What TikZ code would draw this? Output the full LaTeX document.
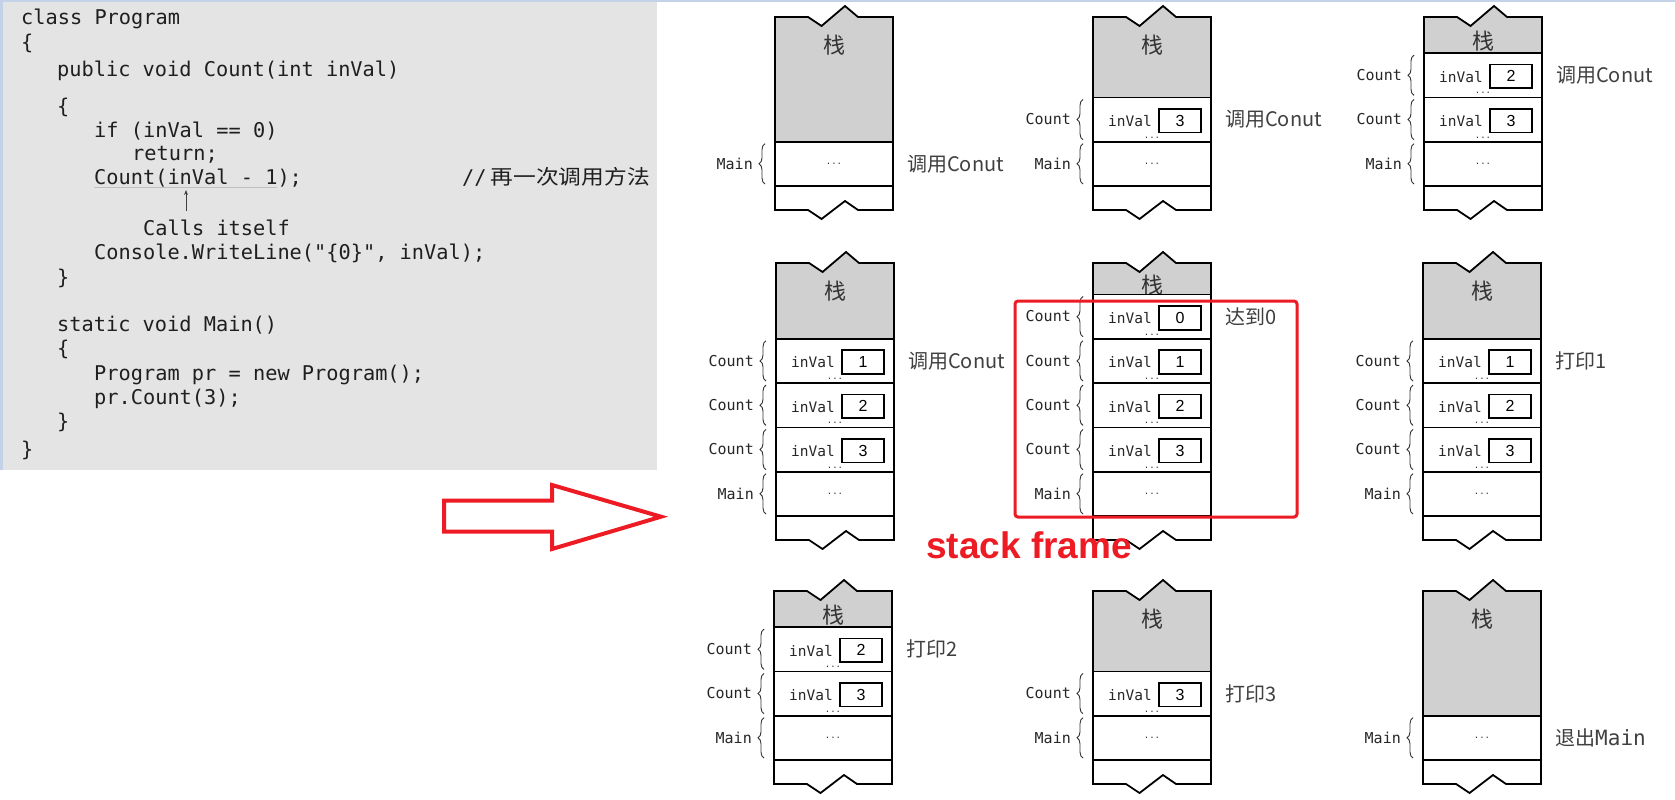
\documentclass[tikz,border=0pt]{standalone}
\usepackage{fontspec}
\newfontfamily\cjk{Noto Sans CJK SC}
\newfontfamily\codefont{DejaVu Sans Mono}
\newfontfamily\digitfont{Liberation Sans}
\newfontfamily\framefont{Liberation Sans}
\usetikzlibrary{arrows.meta,decorations.pathreplacing}
\definecolor{markred}{RGB}{237,28,36}
\definecolor{codebg}{RGB}{228,228,228}
\definecolor{stackgray}{RGB}{208,208,208}
\definecolor{edgeblue}{RGB}{196,210,232}

\begin{document}
\begin{tikzpicture}[x=1pt,y=-1pt,
	code/.style={anchor=base west,inner sep=0pt,text=black!88,font=\codefont\fontsize{20.3}{24}\selectfont},
	lbl/.style={anchor=east,inner sep=0pt,text=black!85,font=\codefont\fontsize{15}{18}\selectfont},
	field/.style={anchor=base west,inner sep=0pt,text=black!85,font=\codefont\fontsize{14.5}{18}\selectfont},
	note/.style={anchor=west,inner sep=0pt,text=black!75,font=\cjk\fontsize{20}{24}\selectfont},
	valbox/.style={draw,line width=1.8pt,minimum width=42pt,minimum height=23.7pt,inner sep=0pt,font=\digitfont\fontsize{16}{18}\selectfont},
	dots/.style={inner sep=0pt,text=black!80,font=\codefont\fontsize{9}{10}\selectfont},
	wall/.style={line width=1.8pt,line join=miter},
	brc/.style={decorate,decoration={brace,amplitude=6pt},line width=0.9pt,black!80}]
	\useasboundingbox (0,0) rectangle (1675,800);
	\fill[white] (0,0) rectangle (1675,800);
	\fill[edgeblue] (0,0) rectangle (1675,2.5);
	\fill[edgeblue] (0,0) rectangle (2.5,470);
	\fill[codebg] (2.5,2.5) rectangle (657,470);

	% the code
	\node[code] (cls) at (21,25) {class Program};
	\node[code] (clsopen) at (21,50) {\{};
	\node[code] (cnthead) at (57,76) {public void Count(int inVal)};
	\node[code] (cntopen) at (57,113) {\{};
	\node[code] (test) at (94,137) {if (inVal == 0)};
	\node[code] (ret) at (132,160) {return;};
	\node[code] (rec) at (94,184) {Count(inVal - 1);};
	\node[code] (cmt) at (462,184) {//\hspace{4pt}{\cjk\scalebox{1.12}[1]{再一次调用方法}}};
	\node[code] (calls) at (143,235) {Calls itself};
	\node[code] (print) at (94,259) {Console.WriteLine("\{0\}", inVal);};
	\node[code] (cntclose) at (57,284) {\}};
	\node[code] (mainhead) at (57,331) {static void Main()};
	\node[code] (mainopen) at (57,355) {\{};
	\node[code] (newpr) at (94,380) {Program pr = new Program();};
	\node[code] (call3) at (94,404) {pr.Count(3);};
	\node[code] (mainclose) at (57,428) {\}};
	\node[code] (clsclose) at (21,456) {\}};
	\coordinate (up) at (186,0);
	\draw[black!25,line width=0.6pt] (rec.south west) -- ++(183,0);
	\draw[-{Stealth[length=5pt,width=4pt]},line width=0.8pt,black!75,shorten <=8pt,shorten >=3pt] (calls.north -| up) -- (rec.south -| up);

	% the stacks
	\foreach \k/\L/\T/\B/\vz/\lab in {
		1/775/17/210/4/{调用Conut},
		2/1093/17/210/3/{调用Conut},
		3/1424/17/210/2/{调用Conut},
		4/776/263/540/1/{调用Conut},
		5/1093/263/540/0/{达到0},
		6/1423/263/540/1/{打印1},
		7/774/591/784/2/{打印2},
		8/1093/591/784/3/{打印3},
		9/1423/591/784/4/{退出{\codefont\fontsize{21}{24}\selectfont Main}}}
	{
		\pgfmathsetmacro\R{\L+118}
		\pgfmathsetmacro\Y{\B-24}
		\pgfmathsetmacro\G{\Y-44.3*(5-\vz)}
		\pgfmathsetmacro\zy{min(\T+28,(\T+\G)/2+6)}
		\fill[stackgray] (\L,\T) -- (\L+33,\T) -- (\L+46.5,\T+9) -- (\L+70,\T-11) -- (\L+83,\T) -- (\R,\T) -- (\R,\G) -- (\L,\G) -- cycle;
		\node[inner sep=0pt,text=black!80,font=\cjk\fontsize{22}{24}\selectfont] (s\k top) at (\L+59,\zy) {栈};
		\draw[wall] (\L,\T) -- (\L+33,\T) -- (\L+46.5,\T+9) -- (\L+70,\T-11) -- (\L+83,\T) -- (\R,\T)
			-- (\R,\B) -- (\L+83,\B) -- (\L+70,\B-9) -- (\L+46.5,\B+9) -- (\L+33,\B) -- (\L,\B) -- cycle;
		\draw[wall] (\L,\Y) -- (\R,\Y);
		\draw[wall] (\L,\Y-44.3) -- (\R,\Y-44.3);
		\node[lbl] (s\k main) at (\L-22,\Y-22) {Main};
		\draw[brc] (\L-10,\Y-2) -- (\L-10,\Y-42.3);
		\node[dots] (s\k mdots) at (\L+59,\Y-22) {...};
		\foreach \v in {0,...,3} {
			\ifnum\v<\vz\relax\else
				\pgfmathsetmacro\rt{\Y-44.3*(5-\v)}
				\draw[wall] (\L,\rt) -- (\R,\rt);
				\node[lbl] (s\k c\v) at (\L-22,\rt+22) {Count};
				\draw[brc] (\L-10,\rt+42.3) -- (\L-10,\rt+2);
				\node[field] (s\k f\v) at (\L+15,\rt+29) {inVal};
				\node[valbox] (s\k v\v) at (\L+87,\rt+23.3) {\v};
				\node[dots] (s\k d\v) at (\L+59,\rt+40) {...};
			\fi
		}
		\node[note] (s\k note) at (\R+14,\G+22) {\lab};
	}

	% the big arrow and the frame mark
	\draw[markred,line width=4pt,line join=miter] (444,500.7) -- (552,500.7) -- (552,485) -- (661,516.7) -- (552,549) -- (552,531.7) -- (444,531.7) -- cycle;
	\draw[markred,line width=3pt,rounded corners=3pt] (1015,301) rectangle (1297,517);
	\node[anchor=base west,inner sep=0pt,text=markred,font=\framefont\fontsize{37}{42}\selectfont\bfseries] (sf) at (926,558) {stack frame};
\end{tikzpicture}
\end{document}
